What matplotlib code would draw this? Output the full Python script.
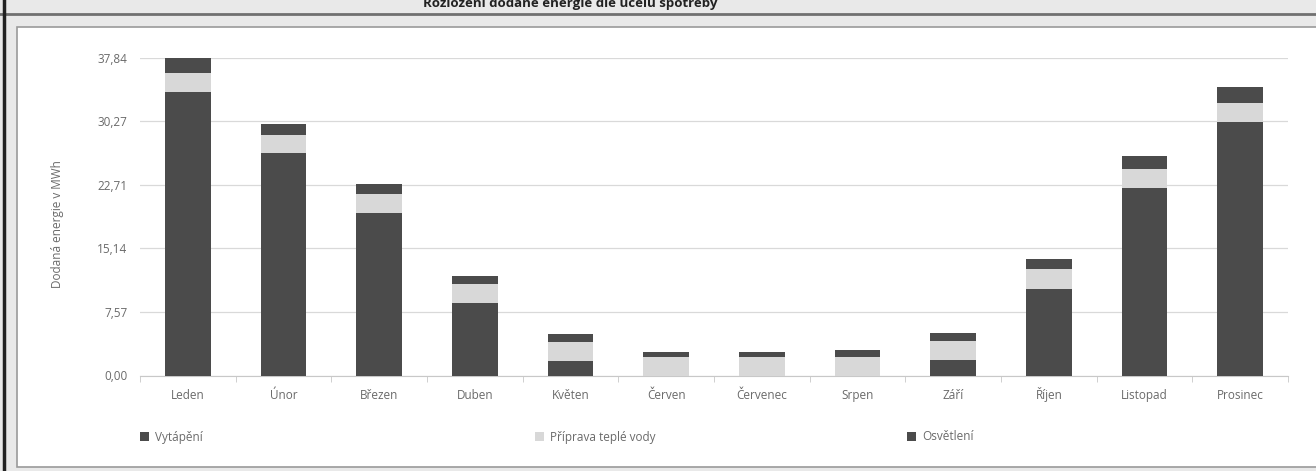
import numpy as np
import matplotlib.pyplot as plt
from matplotlib.patches import Rectangle
from matplotlib.lines import Line2D
from matplotlib.ticker import FixedLocator, FuncFormatter

plt.rcParams['font.family'] = ['Open Sans', 'DejaVu Sans']

# Měsíční dodaná energie v MWh podle účelu spotřeby
mesice = ["Leden", "Únor", "Březen", "Duben", "Květen", "Červen",
          "Červenec", "Srpen", "Září", "Říjen", "Listopad", "Prosinec"]
vytapeni = [33.75, 26.5, 19.4, 8.6, 1.75, 0.0, 0.0, 0.0, 1.9, 10.3, 22.3, 30.2]
tepla_voda = [2.3, 2.1, 2.2, 2.3, 2.25, 2.25, 2.25, 2.2, 2.25, 2.4, 2.3, 2.3]
osvetleni = [1.79, 1.4, 1.2, 1.0, 0.9, 0.55, 0.55, 0.8, 0.95, 1.2, 1.5, 1.9]
osa_max = 37.8425

TMAVA = "#4b4b4b"
SVETLA = "#d8d8d8"
TEXT = "#6a6a6a"

W, H = 1316, 471
fig = plt.figure(figsize=(W / 100, H / 100), dpi=100)
fig.patch.set_facecolor("#e9e9e9")


def px_rect(x0, y0, x1, y1, zorder=-10, **kw):
    """Obdélník zadaný v pixelech od levého horního rohu."""
    fig.patches.append(Rectangle((x0 / W, 1 - y1 / H), (x1 - x0) / W, (y1 - y0) / H,
                                 transform=fig.transFigure, zorder=zorder, **kw))


def px_line(xs, ys, **kw):
    fig.lines.append(Line2D([x / W for x in xs], [1 - y / H for y in ys],
                            transform=fig.transFigure, **kw))


# rámečky kolem grafu
px_rect(17, 27, W + 5, 467, facecolor="white", edgecolor="#9a9a9a", linewidth=1.2)
px_line([0, W], [14, 14], color="#707070", linewidth=2)
px_line([4, 4], [0, H], color="#222222", linewidth=2.5)

fig.text(570 / W, 1 - 3 / H, "Rozložení dodané energie dle účelu spotřeby",
         ha="center", va="center", fontsize=9.5, fontweight="bold", color="#222222")

ax = fig.add_axes([140 / W, (H - 375.5) / H, 1148 / W, 317.8 / H])
ax.set_facecolor("white")
x = np.arange(len(mesice))
sirka = 0.48

spodek2 = np.array(vytapeni)
spodek3 = spodek2 + np.array(tepla_voda)
ax.bar(x, vytapeni, sirka, color=TMAVA, label="Vytápění", zorder=3)
ax.bar(x, tepla_voda, sirka, bottom=spodek2, color=SVETLA, label="Příprava teplé vody", zorder=3)
ax.bar(x, osvetleni, sirka, bottom=spodek3, color=TMAVA, label="Osvětlení", zorder=3)

ax.set_xlim(-0.5, len(mesice) - 0.5)
ax.set_ylim(0, osa_max)
ax.yaxis.set_major_locator(FixedLocator([osa_max * i / 5 for i in range(6)]))
ax.yaxis.set_major_formatter(FuncFormatter(lambda v, p: f"{v:.2f}".replace(".", ",")))
ax.grid(axis="y", color="#d9d9d9", linewidth=0.9, zorder=0)

ax.set_xticks(x)
ax.set_xticklabels(mesice, va="baseline")
ax.xaxis.set_minor_locator(FixedLocator(np.arange(-0.5, len(mesice), 1.0)))
ax.tick_params(axis="x", which="major", length=0, pad=17, labelsize=8.5, labelcolor=TEXT)
ax.tick_params(axis="x", which="minor", length=4, color="#c8c8c8", direction="out")
ax.tick_params(axis="y", length=0, pad=9, labelsize=8.5, labelcolor=TEXT)

for s in ["top", "right", "left"]:
    ax.spines[s].set_visible(False)
ax.spines["bottom"].set_color("#c8c8c8")

fig.text(57 / W, 1 - 224 / H, "Dodaná energie v MWh", rotation=90,
         ha="center", va="center", fontsize=8.5, color=TEXT)

# legenda rozložená pod grafem
polozky = [("Vytápění", TMAVA, 140), ("Příprava teplé vody", SVETLA, 535), ("Osvětlení", TMAVA, 907)]
for popis, barva, px in polozky:
    px_rect(px, 432, px + 9, 441, zorder=2, facecolor=barva, edgecolor="none")
    fig.text((px + 15) / W, 1 - 437 / H, popis, ha="left", va="center",
             fontsize=8.5, color=TEXT)

fig.savefig("out.png", dpi=100)
